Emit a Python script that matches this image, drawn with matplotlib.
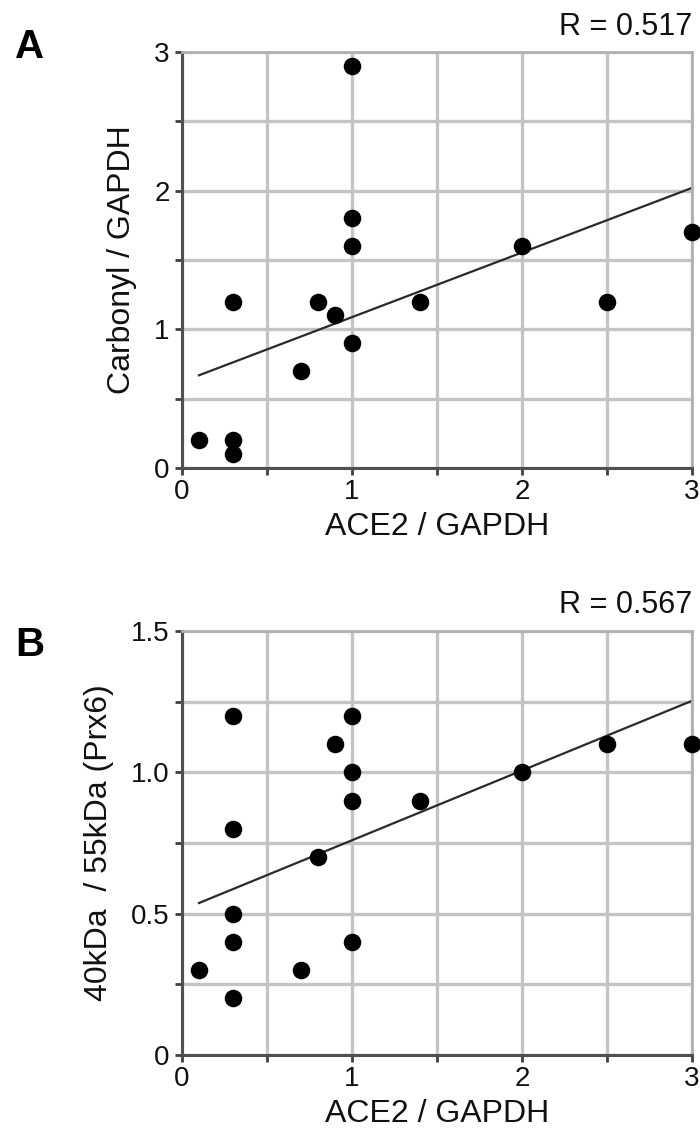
import matplotlib
matplotlib.use("Agg")
import numpy as np
import matplotlib.pyplot as plt
from matplotlib.ticker import MultipleLocator, FuncFormatter

plt.rcParams['font.family'] = ['Liberation Sans', 'DejaVu Sans']

# panel A: carbonyl vs ACE2
a_x = [0.1, 0.3, 0.3, 0.3, 0.7, 0.8, 0.9, 1.0, 1.0, 1.0, 1.0, 1.4, 2.0, 2.5, 3.0]
a_y = [0.2, 1.2, 0.2, 0.1, 0.7, 1.2, 1.1, 2.9, 1.8, 1.6, 0.9, 1.2, 1.6, 1.2, 1.7]
a_fit = (0.466, 0.622)   # slope, intercept as drawn
a_r = "R = 0.517"

# panel B: Prx6 ratio vs ACE2
b_x = [0.1, 0.3, 0.3, 0.3, 0.3, 0.3, 0.7, 0.8, 0.9, 1.0, 1.0, 1.0, 1.0, 1.4, 2.0, 2.5, 3.0]
b_y = [0.3, 1.2, 0.8, 0.5, 0.4, 0.2, 0.3, 0.7, 1.1, 1.2, 1.0, 0.9, 0.4, 0.9, 1.0, 1.1, 1.1]
b_fit = (0.2467, 0.513)
b_r = "R = 0.567"

x_label = "ACE2 / GAPDH"
a_ylabel = "Carbonyl / GAPDH"
b_ylabel = "40kDa  / 55kDa (Prx6)"

W, H = 700, 1135
fig = plt.figure(figsize=(W / 100, H / 100), dpi=100)


def panel(rect, xs, ys, fit, rtxt, ylab, letter, name, ymax, ymaj, ymin, yfmt):
    l, t, r, b = rect
    ax = fig.add_axes([l / W, 1 - b / H, (r - l) / W, (b - t) / H])
    ax.set_xlim(0, 3)
    ax.set_ylim(0, ymax)
    ax.xaxis.set_major_locator(MultipleLocator(1))
    ax.xaxis.set_minor_locator(MultipleLocator(0.5))
    ax.yaxis.set_major_locator(MultipleLocator(ymaj))
    ax.yaxis.set_minor_locator(MultipleLocator(ymin))
    ax.yaxis.set_major_formatter(FuncFormatter(yfmt))
    ax.grid(which='both', color='#c4c4c4', linewidth=2.4, zorder=0)
    ax.set_axisbelow(True)
    for s in ['left', 'bottom']:
        ax.spines[s].set_color('#505050')
        ax.spines[s].set_linewidth(2.2)
    for s in ['top', 'right']:
        ax.spines[s].set_color('#b0b0b0')
        ax.spines[s].set_linewidth(2.0)
    ax.tick_params(which='both', direction='out', length=5, width=2,
                   color='#404040', labelsize=20, pad=4, labelcolor='#111111')
    ax.tick_params(axis='x', pad=3)

    ax.scatter(xs, ys, s=135, color='black', zorder=3, clip_on=False)
    fx = np.array([min(xs), max(xs)])
    ax.plot(fx, fit[0] * fx + fit[1], color='#2a2a2a', linewidth=1.6, zorder=2)

    ax.set_xlabel(x_label, fontsize=23, labelpad=5, color='#111111')
    ax.set_ylabel(ylab, fontsize=23, labelpad=12, color='#111111')
    ax.text(1.0, 1.025, rtxt, transform=ax.transAxes, ha='right', va='bottom',
            fontsize=22, color='#111111')
    fig.text(30 / W, 1 - letter / H, name, fontweight='bold',
             fontsize=29, ha='center', va='center')
    return ax


panel((182, 52, 692, 468), a_x, a_y, a_fit, a_r, a_ylabel, 47, "A", 3, 1, 0.5,
      lambda v, p: "%d" % round(v))
panel((182, 631, 692, 1055), b_x, b_y, b_fit, b_r, b_ylabel, 645, "B", 1.5, 0.5, 0.25,
      lambda v, p: "0" if abs(v) < 1e-9 else "%.1f" % v)

fig.savefig("out.png", dpi=100)
